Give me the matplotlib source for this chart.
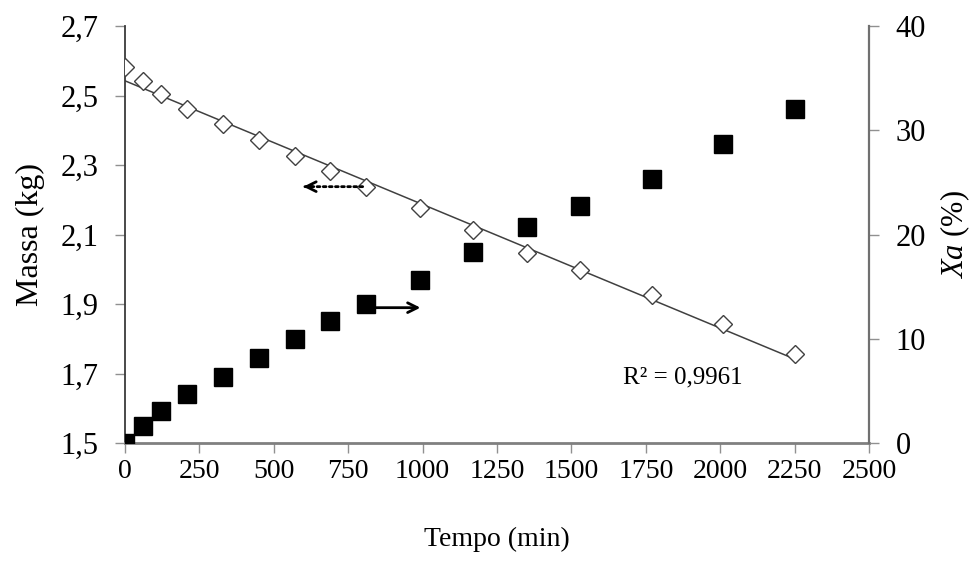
import numpy as np
import matplotlib
matplotlib.use("Agg")
import matplotlib.pyplot as plt
from matplotlib.ticker import FuncFormatter

# ---- data ----
tempo = [0, 60, 120, 210, 330, 450, 570, 690, 810, 990, 1170, 1350, 1530, 1770, 2010, 2250]
massa = [2.582, 2.541, 2.504, 2.462, 2.419, 2.373, 2.327, 2.284, 2.238, 2.177, 2.112,
         2.047, 1.999, 1.927, 1.842, 1.757]
xa = [0.0, 1.7, 3.1, 4.7, 6.4, 8.2, 10.0, 11.7, 13.35, 15.7, 18.3, 20.7, 22.7, 25.3, 28.7, 32.0]
r2_label = "R² = 0,9961"
xticks = [0, 250, 500, 750, 1000, 1250, 1500, 1750, 2000, 2250, 2500]
left_ticks = [1.5, 1.7, 1.9, 2.1, 2.3, 2.5, 2.7]
right_ticks = [0, 10, 20, 30, 40]

plt.rcParams['font.family'] = ['Liberation Serif', 'DejaVu Serif']
plt.rcParams['mathtext.fontset'] = 'custom'
plt.rcParams['mathtext.it'] = 'Liberation Serif:italic'
plt.rcParams['mathtext.rm'] = 'Liberation Serif'

fig = plt.figure(figsize=(9.74, 5.70), dpi=100)
ax = fig.add_axes([125/974, 1-443.3/570, (869-125)/974, (443.3-26)/570])
ax2 = ax.twinx()

# left series: mass (hollow diamonds) + linear trendline
ax.plot(tempo, massa, linestyle='none', marker='D', markersize=9.5,
        markerfacecolor='white', markeredgecolor='#404040', markeredgewidth=1.0, zorder=3)
coef = np.polyfit(tempo, massa, 1)
xt = np.array([tempo[0], tempo[-1]])
ax.plot(xt, np.polyval(coef, xt), color='#404040', lw=1.1, zorder=2)

# right series: Xa (filled squares)
ax2.plot(tempo, xa, linestyle='none', marker='s', markersize=12.5,
         markerfacecolor='black', markeredgecolor='black', zorder=3)

ax.set_xlim(0, 2500)
ax.set_ylim(1.5, 2.7)
ax2.set_ylim(0, 40)
ax.set_xticks(xticks)
ax.set_yticks(left_ticks)
ax2.set_yticks(right_ticks)
ax.yaxis.set_major_formatter(FuncFormatter(lambda v, p: f"{v:.1f}".replace('.', ',')))

for a in (ax, ax2):
    a.spines['top'].set_visible(False)
ax.spines['left'].set_color('#3a3a3a')
ax.spines['left'].set_linewidth(1.3)
ax.spines['bottom'].set_color('#808080')
ax.spines['bottom'].set_linewidth(2.0)
ax.spines['right'].set_visible(False)
ax2.spines['left'].set_visible(False)
ax2.spines['bottom'].set_visible(False)
ax2.spines['right'].set_color('#707070')
ax2.spines['right'].set_linewidth(1.6)

ax.tick_params(axis='x', direction='out', length=7, width=1, color='#909090',
               labelsize=20, pad=4)
ax.tick_params(axis='y', direction='out', length=7, width=1, color='#909090',
               labelsize=22, pad=12)
ax2.tick_params(axis='y', direction='out', length=7, width=1, color='#909090',
                labelsize=22, pad=12)

ax.set_xlabel("Tempo (min)", fontsize=20)
ax.set_ylabel("Massa (kg)", fontsize=23)
ax2.set_ylabel(r"$\mathit{Xa}$ (%)", fontsize=22)
ax.xaxis.set_label_coords(0.5, -0.2)
ax.yaxis.set_label_coords(-0.107, 0.5)
ax2.yaxis.set_label_coords(1.093, 0.5)

# R² annotation
ax.text(1875, 1.688, r2_label, fontsize=18, ha='center', va='center')

# arrows: dotted (to left axis) and solid (to right axis)
ax.annotate('', xy=(595, 2.238), xytext=(808, 2.238),
            arrowprops=dict(arrowstyle='-', linestyle=(0, (1, 1.2)), lw=2.0, color='black'))
ax.annotate('', xy=(590, 2.238), xytext=(640, 2.238),
            arrowprops=dict(arrowstyle='->,head_length=0.7,head_width=0.35', lw=2.0, color='black'))
ax2.annotate('', xy=(1002, 13.0), xytext=(830, 13.0),
             arrowprops=dict(arrowstyle='->,head_length=0.7,head_width=0.35', lw=2.0, color='black'))

fig.savefig("out.png", dpi=100)
